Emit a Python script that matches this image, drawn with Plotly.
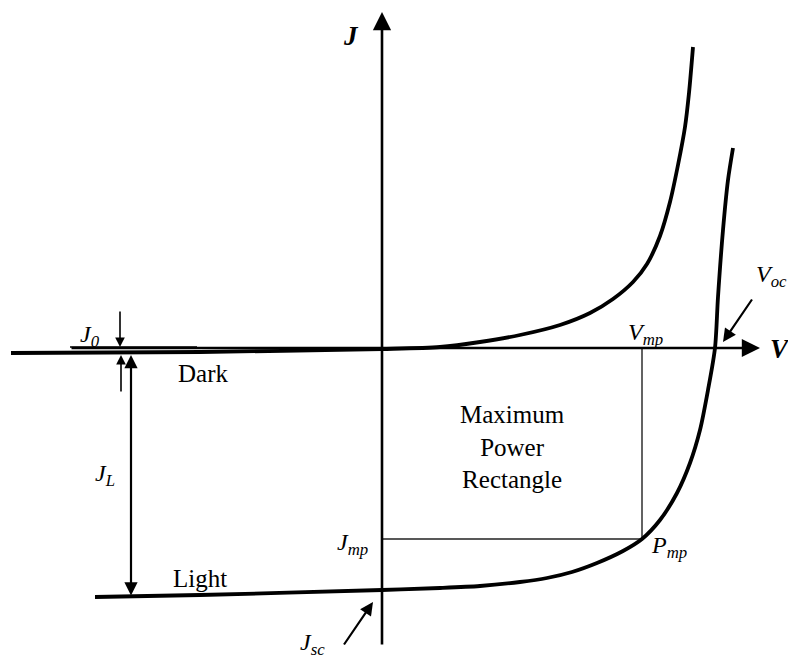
import plotly.graph_objects as go

# Solar cell J-V characteristics (arbitrary units, origin at V=0, J=0)
dark_v = [-371, -182, 0, 58, 98, 138, 178, 208, 231, 251, 265, 278, 288, 296, 303, 307, 311]
dark_j = [-5, -4, -1, 1, 6, 13, 23, 35, 49, 66, 84, 112, 146, 183, 221, 255, 301]

light_v = [-287, -182, 0, 58, 98, 138, 165, 190, 215, 241, 260, 278, 295, 308, 318, 326, 333, 336, 341, 346, 351]
light_j = [-249, -247, -242, -240, -238, -234, -230, -224, -215, -203, -191, -172, -145, -115, -82, -42, 0, 51, 118, 168, 200]

v_mp, j_mp = 260, -191
v_oc = 333
j_sc = -242
j_l = -249
j_0 = -5

SERIF = "Liberation Serif"
BLACK = "#000000"

fig = go.Figure()

# thin zero-current reference at reverse bias
fig.add_trace(go.Scatter(x=[-312, -185], y=[1, 1], mode="lines",
                         line=dict(color=BLACK, width=1.5), hoverinfo="skip"))

# maximum power rectangle
fig.add_trace(go.Scatter(x=[0, v_mp, v_mp], y=[j_mp, j_mp, 0], mode="lines",
                         line=dict(color="#222222", width=1.4), hoverinfo="skip"))

# dark and illuminated curves
fig.add_trace(go.Scatter(x=dark_v, y=dark_j, mode="lines",
                         line=dict(color=BLACK, width=3.8, shape="spline", smoothing=0.8),
                         hoverinfo="skip"))
fig.add_trace(go.Scatter(x=light_v, y=light_j, mode="lines",
                         line=dict(color=BLACK, width=3.8, shape="spline", smoothing=0.8),
                         hoverinfo="skip"))

def arrow(x0, y0, x1, y1, width=2.2, size=1.3, head=2, both=False):
    fig.add_annotation(x=x1, y=y1, ax=x0, ay=y0, xref="x", yref="y",
                       axref="x", ayref="y", text="", showarrow=True,
                       arrowhead=head, arrowsize=size, arrowwidth=width,
                       arrowcolor=BLACK, standoff=0, startstandoff=0,
                       arrowside="end+start" if both else "end",
                       startarrowhead=head, startarrowsize=size)

# axes
arrow(-312, 0, 378, 0, width=2.6, size=1.4)
arrow(0, -298, 0, 336, width=2.6, size=1.4)

# J0 markers
arrow(-262, 38, -262, 1, width=1.6, size=1.2)
arrow(-261, -45, -261, -7, width=1.6, size=1.2)
# JL span
arrow(-251, j_l, -251, -7, width=2.2, size=1.2, both=True)
# Voc and Jsc pointers
arrow(371, 50, v_oc + 8, 6, width=2.2, size=1.2)
arrow(-39, -298, -9, j_sc - 12, width=2.2, size=1.2)

def label(x, y, txt, size=25, bold=False):
    fig.add_annotation(x=x, y=y, xref="x", yref="y", text=txt, showarrow=False,
                       xanchor="center", yanchor="middle",
                       font=dict(family=SERIF, size=size, color=BLACK,
                                 weight="bold" if bold else "normal"))

label(-31, 312, "<i>J</i>", size=27, bold=True)
label(398, -1, "<i>V</i>", size=27, bold=True)
label(-292, 12, "<i>J</i><sub><i>0</i></sub>", size=24)
label(-277, -127, "<i>J</i><sub><i>L</i></sub>", size=24)
label(-179, -25, "Dark", size=25)
label(-182, -230, "Light", size=25)
label(130, -99, "Maximum<br>Power<br>Rectangle", size=25)
label(263, 14, "<i>V</i><sub><i>mp</i></sub>", size=24)
label(-30, -196, "<i>J</i><sub><i>mp</i></sub>", size=24)
label(287, -199, "<i>P</i><sub><i>mp</i></sub>", size=24)
label(389, 72, "<i>V</i><sub><i>oc</i></sub>", size=24)
label(-70, -296, "<i>J</i><sub><i>sc</i></sub>", size=24)

fig.update_layout(
    width=788, height=662, margin=dict(l=0, r=0, t=0, b=0),
    paper_bgcolor="white", plot_bgcolor="white", showlegend=False,
    font=dict(family=SERIF),
    xaxis=dict(range=[-382, 406], visible=False, fixedrange=True),
    yaxis=dict(range=[-314, 348], visible=False, fixedrange=True),
)

fig.write_html("out.html")
